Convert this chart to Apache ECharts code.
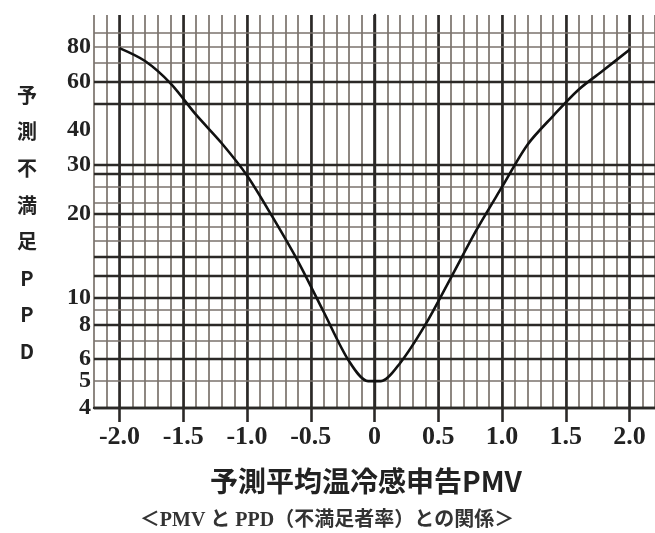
<!DOCTYPE html>
<html>
<head>
<meta charset="utf-8">
<script src="https://cdn.jsdelivr.net/npm/echarts@6/dist/echarts.min.js"></script>
<style>
html,body{margin:0;padding:0;background:#fff;}
#c{width:655px;height:533px;}
</style>
</head>
<body>
<div id="c"></div>
<script>
// PMV (x) and PPD % (y)
const pmv = [-2.0,-1.8,-1.6,-1.4,-1.2,-1.0,-0.8,-0.6,-0.4,-0.2,-0.05,0.05,0.2,0.4,0.6,0.8,1.0,1.2,1.4,1.6,1.8,2.0];
const ppd = [79,71,59,45.5,36,27.5,19.5,13.5,8.9,5.9,5.0,5.0,5.8,8.0,11.8,17.5,25,35.5,45,56,66,78];

// x-axis tick labels
const xTicks = [-2.0,-1.5,-1.0,-0.5,0,0.5,1.0,1.5,2.0];
const xTickLabels = ['-2.0','-1.5','-1.0','-0.5','0','0.5','1.0','1.5','2.0'];

// y-axis (log) labelled values
const yLabels = [80,60,40,30,20,10,8,6,5,4];
// horizontal grid lines on the log paper
const yGridDark = [60,50,30,28,20,14,12,10,8,6,4];
const yGridLight = [90,80,70,25,22,18,16,9,7,5];

const xTitle = '予測平均温冷感申告PMV';
const yTitle = '予測不満足PPD';
const caption = '＜PMV と PPD（不満足者率）との関係＞';

const DARK = '#2b2927';
const LIGHT = '#7a726c';

const gridVals = yGridDark.concat(yGridLight).concat(yLabels.filter(v => yGridDark.indexOf(v) < 0 && yGridLight.indexOf(v) < 0));
const markData = gridVals.map(v => {
  const dark = yGridDark.indexOf(v) >= 0;
  const light = yGridLight.indexOf(v) >= 0;
  return {
    yAxis: v,
    lineStyle: {color: dark ? DARK : LIGHT, width: dark ? 2.4 : (light ? 1.6 : 0), type: 'solid'},
    label: {show: yLabels.indexOf(v) >= 0}
  };
});

const chart = echarts.init(document.getElementById('c'), null, {renderer: 'canvas'});
chart.setOption({
  animation: false,
  backgroundColor: '#fff',
  grid: {left: 94, top: 15, width: 562, height: 393, containLabel: false},
  xAxis: [{
    type: 'value', min: -2.2, max: 2.2, interval: 0.1, position: 'bottom',
    axisLine: {show: false},
    axisTick: {show: false},
    axisLabel: {show: false},
    splitLine: {show: true, lineStyle: {color: LIGHT, width: 1.7}},
    z: 0
  }, {
    type: 'value', min: -2.2, max: 2.2, position: 'bottom',
    axisLine: {show: true, onZero: false, lineStyle: {color: DARK, width: 2.4}},
    axisTick: {show: true, customValues: xTicks, length: 14, lineStyle: {color: DARK, width: 2.6}},
    axisLabel: {
      show: true, customValues: xTicks, margin: 16,
      fontFamily: 'Liberation Serif', fontWeight: 'bold', fontSize: 26, color: '#222',
      formatter: function (v) {
        for (let i = 0; i < xTicks.length; i++) { if (Math.abs(xTicks[i] - v) < 1e-6) return xTickLabels[i]; }
        return '';
      }
    },
    splitLine: {show: true, lineStyle: {color: DARK, width: 2.6}},
    z: 1
  }],
  yAxis: [{
    type: 'log', logBase: 10, min: 4, max: 104,
    axisLine: {show: true, lineStyle: {color: DARK, width: 2.4}},
    axisTick: {show: false},
    axisLabel: {show: false},
    splitLine: {show: false},
    minorSplitLine: {show: false}
  }],
  series: [{
    type: 'line',
    xAxisIndex: 1,
    data: pmv.map((x, i) => [x, ppd[i]]),
    smooth: 0.3,
    showSymbol: false,
    symbol: 'none',
    lineStyle: {color: '#111', width: 2.6},
    z: 5,
    markLine: {
      silent: true,
      symbol: ['none', 'none'],
      animation: false,
      z: 3,
      label: {
        show: true, position: 'start', distance: 3,
        fontFamily: 'Liberation Serif', fontWeight: 'bold', fontSize: 24, color: '#222',
        formatter: p => String(p.value)
      },
      data: markData
    }
  }],
  graphic: [
    {type: 'text', x: 27, y: 77, style: {
      text: yTitle.split('').join('\n'), textAlign: 'center', textVerticalAlign: 'top',
      font: 'bold 20px "Noto Sans CJK JP", sans-serif', lineHeight: 36.6, fill: '#222'}},
    {type: 'text', x: 366, y: 481, style: {
      text: xTitle, textAlign: 'center', textVerticalAlign: 'middle',
      font: 'bold 28px "Noto Sans CJK JP", sans-serif', fill: '#222'}},
    {type: 'text', x: 327, y: 521, style: {
      text: caption, textAlign: 'center', textVerticalAlign: 'middle',
      font: 'bold 20px "Liberation Serif", "Noto Sans CJK JP", serif', fill: '#333'}}
  ]
});
</script>
</body>
</html>
